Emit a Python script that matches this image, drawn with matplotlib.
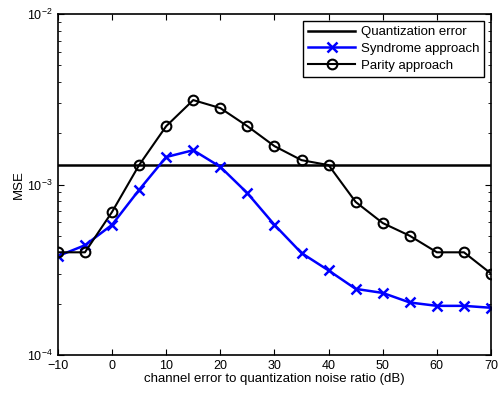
import matplotlib
matplotlib.use("Agg")
import matplotlib.pyplot as plt
import numpy as np

plt.rcParams["font.family"] = ["Liberation Sans", "DejaVu Sans"]

snr = [-10, -5, 0, 5, 10, 15, 20, 25, 30, 35, 40, 45, 50, 55, 60, 65, 70]
quant_error = 1.30e-3
syndrome = [3.8e-4, 4.4e-4, 5.8e-4, 9.3e-4, 1.45e-3, 1.59e-3, 1.27e-3, 8.9e-4,
            5.8e-4, 3.96e-4, 3.13e-4, 2.44e-4, 2.31e-4, 2.03e-4, 1.94e-4, 1.94e-4, 1.89e-4]
parity = [4.0e-4, 4.0e-4, 6.9e-4, 1.3e-3, 2.2e-3, 3.13e-3, 2.81e-3, 2.2e-3,
          1.68e-3, 1.39e-3, 1.3e-3, 7.9e-4, 5.94e-4, 5.0e-4, 4.0e-4, 4.0e-4, 3.0e-4]

fig = plt.figure(figsize=(4.99, 3.93), dpi=100)
ax = fig.add_axes([0.116, 0.097, 0.868, 0.867])

ax.plot([snr[0], snr[-1]], [quant_error, quant_error], color="black", linewidth=1.8,
        label="Quantization error")
ax.plot(snr, syndrome, color="blue", linewidth=1.8, marker="x", markersize=7,
        markeredgewidth=1.8, label="Syndrome approach")
ax.plot(snr, parity, color="black", linewidth=1.5, marker="o", markersize=7,
        markerfacecolor="none", markeredgewidth=1.5, label="Parity approach")

ax.set_yscale("log")
ax.set_xlim(-10, 70)
ax.set_ylim(1e-4, 1e-2)
ax.set_xticks(np.arange(-10, 71, 10))
ax.set_xticklabels(["\u221210"] + [str(v) for v in range(0, 71, 10)])
ax.tick_params(which="both", direction="in", top=True, right=True, labelsize=9)
ax.tick_params(which="major", length=4)
ax.tick_params(which="minor", length=2)
for s in ax.spines.values():
    s.set_linewidth(1.2)

ax.set_xlabel("channel error to quantization noise ratio (dB)", fontsize=9.5, labelpad=1)
ax.set_ylabel("MSE", fontsize=9.5, labelpad=2)

leg = ax.legend(loc="upper right", fontsize=9.5, fancybox=False, edgecolor="black",
                framealpha=1, handlelength=3.6, handletextpad=0.4, borderpad=0.4,
                labelspacing=0.35, borderaxespad=0.5)
leg.get_frame().set_linewidth(1.0)

fig.savefig("out.png", dpi=100)
